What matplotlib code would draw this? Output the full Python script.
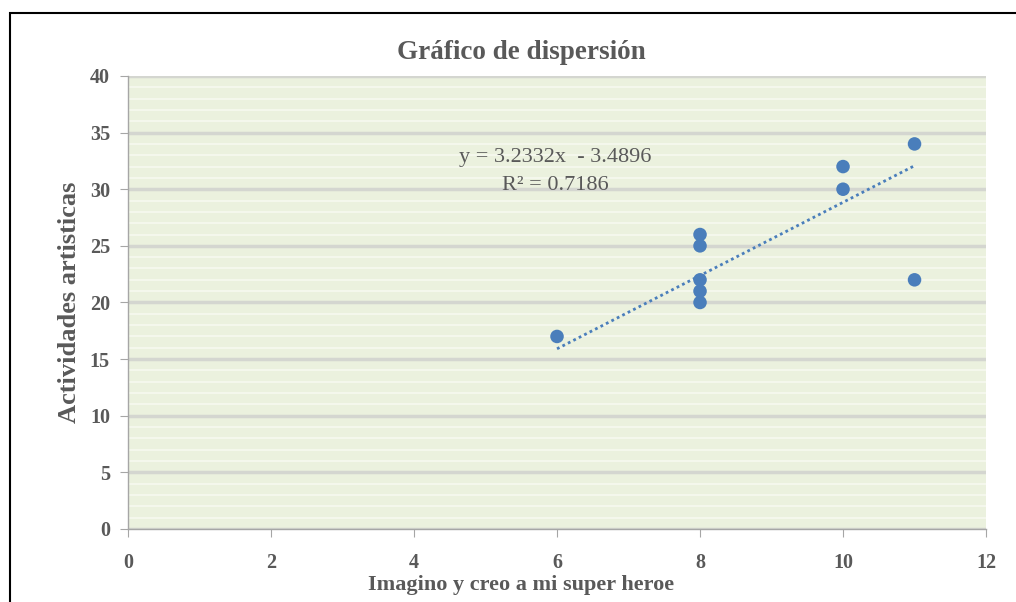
import matplotlib.pyplot as plt
import numpy as np
from matplotlib.patches import Rectangle

plt.rcParams['font.family'] = ['Liberation Serif', 'DejaVu Serif']

# points
x_vals = [6, 8, 8, 8, 8, 8, 10, 10, 11, 11]
y_vals = [17, 26, 25, 22, 21, 20, 32, 30, 34, 22]

# trendline as printed on the chart
slope = 3.2332
intercept = -3.4896
r2 = 0.7186

title = 'Gráfico de dispersión'
xlabel = 'Imagino y creo a mi super heroe'
ylabel = 'Actividades artisticas'

grey = '#595959'
blue = '#4a7ebb'

fig = plt.figure(figsize=(10.16, 6.02), dpi=100)
ax = fig.add_axes([0.126, 0.1213, 0.8445, 0.7525])
ax.set_facecolor('#ebf1de')

# outer frame (only top and left visible in the reference)
fig.patches.append(Rectangle((10 / 1016, -0.05), 1.1, 1 - 13 / 602 + 0.05,
                             transform=fig.transFigure, fill=False,
                             edgecolor='black', linewidth=1.5))

ax.set_xlim(0, 12)
ax.set_ylim(0, 40)
ax.set_xticks(np.arange(0, 13, 2))
ax.set_yticks(np.arange(0, 41, 5))
ax.set_yticks(np.arange(0, 41, 1), minor=True)

ax.grid(which='minor', axis='y', color='#f7f9ef', linewidth=1.2)
ax.grid(which='major', axis='y', color='#d4d6d0', linewidth=2.5)
ax.set_axisbelow(True)

for s in ['top', 'right']:
    ax.spines[s].set_visible(False)
for s in ['left', 'bottom']:
    ax.spines[s].set_color('#a6a6a6')
    ax.spines[s].set_linewidth(1)

ax.tick_params(which='major', length=6, color='#a6a6a6', labelcolor=grey,
               labelsize=14.5)
ax.tick_params(axis='y', pad=7)
ax.tick_params(axis='x', pad=11)
ax.tick_params(which='minor', length=0)
for lbl in ax.get_xticklabels() + ax.get_yticklabels():
    lbl.set_fontweight('bold')

ax.scatter(x_vals, y_vals, s=95, color=blue, zorder=3, edgecolors='none')

tx = np.array([min(x_vals), max(x_vals)])
ax.plot(tx, slope * tx + intercept, color=blue, linestyle=(0, (1, 1.2)),
        linewidth=2, zorder=2)

ax.text(5.97, 32.8, f'y = {slope}x  - {abs(intercept)}', ha='center', va='center',
        fontsize=16, color=grey)
ax.text(5.97, 30.3, f'R² = {r2}', ha='center', va='center',
        fontsize=16, color=grey)

ax.set_title(title, fontsize=19.5, fontweight='bold', color=grey, pad=12, x=0.458)
ax.set_xlabel(xlabel, fontsize=16, fontweight='bold', color=grey, va='center')
ax.xaxis.set_label_coords(0.458, -0.124)
ax.set_ylabel(ylabel, fontsize=19, fontweight='bold', color=grey, va='center')
ax.yaxis.set_label_coords(-0.068, 0.501)

fig.savefig('out.png', dpi=100)
